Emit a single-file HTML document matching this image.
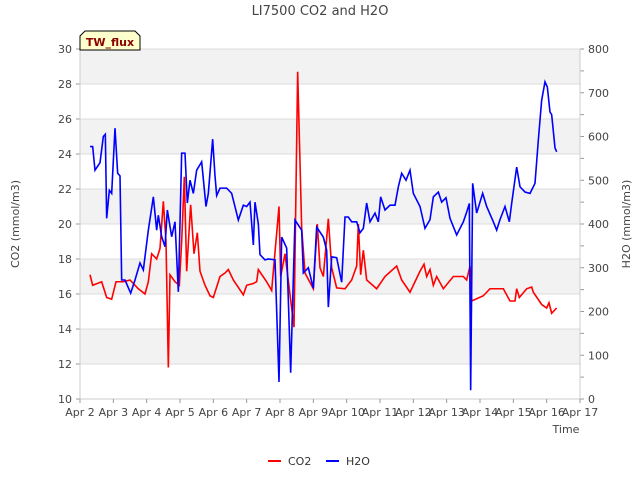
<!DOCTYPE html>
<html><head><meta charset="utf-8"><style>
body{margin:0;background:#fff;font-family:"Liberation Sans","DejaVu Sans",sans-serif}
svg text{font-family:"DejaVu Sans","Liberation Sans",sans-serif}
</style></head><body>
<svg id="c" width="640" height="480" xmlns="http://www.w3.org/2000/svg">
<text x="320" y="15" text-anchor="middle" font-size="13" fill="#444">LI7500 CO2 and H2O</text>
<g id="bands"></g><g id="axes"></g><g id="series"></g>
<g>
<path d="M80,50 L80,36 L85,31 L135,31 L140,36 L140,50 Z" fill="#ffffcc" stroke="#000" stroke-width="1"/>
<text x="110" y="46" text-anchor="middle" font-size="11" font-weight="bold" fill="#8b0000">TW_flux</text></g>
<text x="566" y="433" text-anchor="middle" font-size="11" fill="#444">Time</text>
<text transform="translate(19,224) rotate(-90)" text-anchor="middle" font-size="11" fill="#444">CO2 (mmol/m3)</text>
<text transform="translate(630,224) rotate(-90)" text-anchor="middle" font-size="11" fill="#444">H2O (mmol/m3)</text>
<g>
<line x1="268" y1="461" x2="281" y2="461" stroke="#f00" stroke-width="2"/><text x="288" y="465" font-size="11" fill="#333">CO2</text>
<line x1="326" y1="461" x2="339" y2="461" stroke="#00f" stroke-width="2"/><text x="346" y="465" font-size="11" fill="#333">H2O</text></g>
</svg>
<script>
const xLabels=["Apr 2","Apr 3","Apr 4","Apr 5","Apr 6","Apr 7","Apr 8","Apr 9","Apr 10","Apr 11","Apr 12","Apr 13","Apr 14","Apr 15","Apr 16","Apr 17"];
const leftTicks=[10,12,14,16,18,20,22,24,26,28,30];
const rightTicks=[0,100,200,300,400,500,600,700,800];
const co2Days=[0.3,0.38,0.65,0.8,0.95,1.08,1.3,1.5,1.75,1.95,2.05,2.15,2.3,2.4,2.5,2.58,2.65,2.7,2.85,2.98,3.05,3.13,3.2,3.32,3.42,3.52,3.6,3.75,3.9,4.0,4.2,4.35,4.45,4.6,4.9,5.0,5.2,5.3,5.35,5.6,5.75,5.97,6.02,6.15,6.42,6.53,6.65,6.75,7.0,7.12,7.2,7.3,7.45,7.55,7.7,7.95,8.15,8.3,8.35,8.42,8.5,8.6,8.9,9.15,9.5,9.65,9.9,10.2,10.32,10.4,10.5,10.6,10.7,10.9,11.2,11.5,11.6,11.7,11.75,12.1,12.3,12.7,12.9,13.05,13.1,13.18,13.4,13.55,13.6,13.85,14.0,14.07,14.15,14.3];
const co2Vals=[17.1,16.5,16.7,15.8,15.7,16.7,16.7,16.8,16.3,16.0,16.7,18.3,18.0,18.6,21.3,19.0,11.8,17.1,16.7,16.5,19.0,22.7,17.3,21.1,18.3,19.5,17.3,16.5,15.9,15.8,17.0,17.2,17.4,16.8,15.95,16.5,16.6,16.7,17.4,16.7,16.2,21.0,17.0,18.3,14.1,28.7,19.8,17.2,16.3,20.0,17.5,17.0,20.3,17.5,16.35,16.3,16.8,17.6,20.0,17.1,18.5,16.8,16.3,17.0,17.6,16.8,16.1,17.3,17.7,17.0,17.4,16.5,17.0,16.3,17.0,17.0,16.8,17.6,15.6,15.9,16.3,16.3,15.6,15.6,16.3,15.8,16.3,16.4,16.1,15.4,15.2,15.5,14.9,15.2];
const h2oDays=[0.3,0.38,0.45,0.6,0.7,0.76,0.8,0.88,0.95,1.05,1.13,1.2,1.25,1.35,1.52,1.65,1.8,1.9,2.05,2.2,2.3,2.35,2.45,2.55,2.62,2.75,2.85,2.95,3.05,3.15,3.22,3.3,3.4,3.5,3.65,3.78,3.85,3.98,4.05,4.1,4.2,4.4,4.55,4.75,4.9,5.0,5.1,5.2,5.25,5.35,5.4,5.55,5.65,5.85,5.97,6.05,6.2,6.32,6.45,6.65,6.7,6.85,7.0,7.1,7.3,7.4,7.45,7.55,7.7,7.85,7.95,8.05,8.15,8.3,8.4,8.5,8.6,8.7,8.85,8.95,9.02,9.15,9.3,9.45,9.55,9.65,9.78,9.9,10.0,10.2,10.35,10.5,10.6,10.75,10.85,10.98,11.1,11.3,11.5,11.6,11.68,11.72,11.78,11.9,12.08,12.2,12.4,12.5,12.6,12.75,12.88,12.95,13.1,13.2,13.35,13.5,13.65,13.75,13.85,13.95,14.02,14.1,14.15,14.25,14.3];
const h2oVals=[577,577,523,540,600,605,413,477,470,619,516,510,272,272,242,272,311,295,386,462,386,420,371,348,432,371,405,245,562,562,448,500,470,523,542,440,470,594,510,465,482,482,470,409,443,440,450,352,450,400,330,318,320,318,39,370,345,60,409,386,288,300,253,393,370,340,210,325,323,267,416,416,405,405,380,390,448,405,425,405,462,432,443,443,485,516,500,523,470,440,390,410,462,473,450,460,413,375,405,427,447,20,493,425,470,440,405,386,410,440,405,447,530,485,473,470,493,592,683,725,713,656,650,574,565];
const NS="http://www.w3.org/2000/svg";
const X0=80,X1=580,Y0=399,Y1=49;
const xs=d=>X0+d*(X1-X0)/15;
const yl=v=>Y0-(v-10)*(Y0-Y1)/20;
const yr=v=>Y0-v*(Y0-Y1)/800;
function mk(t,a,p){const e=document.createElementNS(NS,t);for(const k in a)e.setAttribute(k,a[k]);p.appendChild(e);return e;}
const bands=document.getElementById('bands'),axes=document.getElementById('axes'),ser=document.getElementById('series');
mk('rect',{x:X0,y:Y1,width:X1-X0,height:Y0-Y1,fill:'#fff'},bands);
for(let v=12;v<30;v+=4){const r=mk('rect',{x:X0,y:yl(v+2),width:X1-X0,height:yl(v)-yl(v+2),fill:'#f2f2f2'},bands);

}
leftTicks.forEach(v=>{mk('line',{x1:X0,x2:X1,y1:yl(v),y2:yl(v),stroke:'#dcdcdc','stroke-width':1},bands);
mk('line',{x1:X0-4,x2:X0,y1:yl(v),y2:yl(v),stroke:'#999'},axes);
const t=mk('text',{x:X0-8,y:yl(v)+4,'text-anchor':'end','font-size':11,fill:'#444'},axes);t.textContent=v;

});
for(let v=0;v<=800;v+=50){mk('line',{x1:X1,x2:X1+4,y1:yr(v),y2:yr(v),stroke:'#999'},axes);}
rightTicks.forEach(v=>{const t=mk('text',{x:X1+8,y:yr(v)+4,'font-size':11,fill:'#444'},axes);t.textContent=v;

});
mk('line',{x1:X0,x2:X0,y1:Y1,y2:Y0,stroke:'#ccc'},axes);mk('line',{x1:X1,x2:X1,y1:Y1,y2:Y0,stroke:'#ccc'},axes);
mk('line',{x1:X0,x2:X1,y1:Y0,y2:Y0,stroke:'#ccc'},axes);
xLabels.forEach((l,i)=>{mk('line',{x1:xs(i),x2:xs(i),y1:Y0,y2:Y0+4,stroke:'#999'},axes);
const t=mk('text',{x:xs(i),y:Y0+17,'text-anchor':'middle','font-size':11,fill:'#444'},axes);t.textContent=l;

});
const pc=mk('polyline',{points:co2Days.map((d,i)=>xs(d)+','+yl(co2Vals[i])).join(' '),fill:'none',stroke:'#f00','stroke-width':1.6},ser);


const ph=mk('polyline',{points:h2oDays.map((d,i)=>xs(d)+','+yr(h2oVals[i])).join(' '),fill:'none',stroke:'#00f','stroke-width':1.6},ser);


</script>
</body></html>
